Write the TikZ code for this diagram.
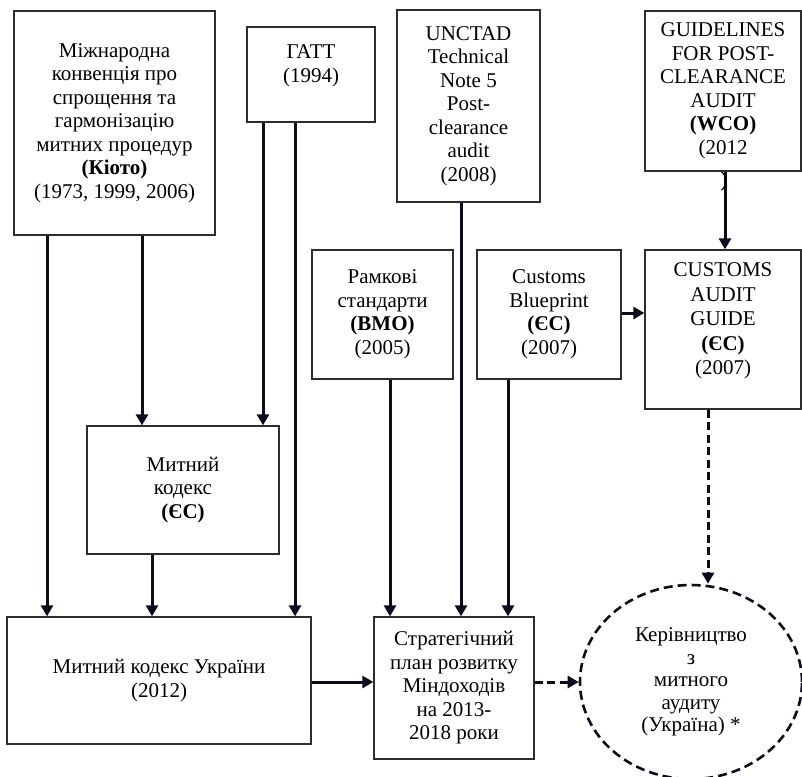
\documentclass[tikz,border=0pt]{standalone}
\usepackage{fontspec}
\setmainfont{Liberation Serif}
\usetikzlibrary{arrows.meta,shapes.geometric}
\definecolor{boxline}{HTML}{2E2E2E}
\definecolor{conn}{HTML}{0C0C1C}
\tikzset{
  doc/.style={draw=boxline, line width=1.3pt, fill=white, align=center, inner sep=2pt,
    font=\fontsize{21}{23.5}\selectfont, text=black},
  arr/.style={draw=conn, line width=3pt, -{Triangle[length=11pt,width=12pt]}},
  darr/.style={arr, dash pattern=on 8pt off 4.5pt},
}
\begin{document}
\begin{tikzpicture}[x=1pt,y=-1pt]
\useasboundingbox[fill=white] (0,0) rectangle (802,776);
% boxes
\node[doc, minimum width=201pt, minimum height=224pt] (kioto) at (114.5,123)
  {Міжнародна\\конвенція про\\спрощення та\\гармонізацію\\митних процедур\\\textbf{(Кіото)}\\(1973, 1999, 2006)};
\node[doc, minimum width=128pt, minimum height=95pt] (gatt) at (311,74.5) {ГАТТ\\(1994)\\[-1.5pt]\mbox{}};
\node[doc, minimum width=143pt, minimum height=192pt] (unctad) at (468.5,106)
  {UNCTAD\\Technical\\Note 5\\Post-\\clearance\\audit\\(2008)};
\node[doc, minimum width=156pt, minimum height=160pt] (wco) at (723,91)
  {GUIDELINES\\FOR POST-\\CLEARANCE\\AUDIT\\\textbf{(WCO)}\\(2012};
\node[font=\fontsize{21}{23.5}\selectfont, inner sep=0pt] (wcoparen) at (724,181) {)};
\node[doc, minimum width=141pt, minimum height=129pt] (rama) at (382.5,314.5)
  {Рамкові\\стандарти\\\textbf{(ВМО)}\\(2005)};
\node[doc, minimum width=144pt, minimum height=129pt] (blue) at (549,314.5)
  {Customs\\Blueprint\\\textbf{(ЄС)}\\(2007)};
\node[doc, minimum width=156pt, minimum height=159pt, font=\fontsize{21}{24.5}\selectfont] (cag) at (723,329.5)
  {CUSTOMS\\AUDIT\\GUIDE\\\textbf{(ЄС)}\\(2007)\\[-3.5pt]\mbox{}};
\node[doc, minimum width=192pt, minimum height=128pt] (mkes) at (183,490)
  {Митний\\кодекс\\\textbf{(ЄС)}};
\node[doc, minimum width=304pt, minimum height=127pt] (mku) at (159,680.5)
  {Митний кодекс України\\(2012)};
\node[doc, minimum width=160pt, minimum height=142pt] (strat) at (454,688)
  {Стратегічний\\план розвитку\\Міндоходів\\на 2013-\\2018 роки};
\node[ellipse, draw=conn, line width=2.6pt, dash pattern=on 9pt off 5pt, align=center,
  font=\fontsize{21}{22.5}\selectfont, minimum width=222pt, minimum height=194pt, inner sep=0pt] (ell) at (691,682)
  {Керівництво\\з\\митного\\аудиту\\(Україна) *};
% helper positions
\coordinate (c47) at (47,0);
\coordinate (c142) at (142,0);
\coordinate (c152) at (152,0);
\coordinate (c263) at (263,0);
\coordinate (c295) at (295,0);
\coordinate (c390) at (390,0);
\coordinate (c461) at (461,0);
\coordinate (c508) at (508,0);
\coordinate (c725) at (725,0);
\coordinate (c708) at (708,0);
\coordinate (r313) at (0,313);
\coordinate (r682) at (0,682);
% connectors
\draw[arr] (kioto.south -| c47) -- (mku.north -| c47);
\draw[arr] (kioto.south -| c142) -- (mkes.north -| c142);
\draw[arr] (gatt.south -| c263) -- (mkes.north -| c263);
\draw[arr] (gatt.south -| c295) -- (mku.north -| c295);
\draw[arr] (mkes.south -| c152) -- (mku.north -| c152);
\draw[arr] (rama.south -| c390) -- (strat.north -| c390);
\draw[arr] (unctad.south -| c461) -- (strat.north -| c461);
\draw[arr] (blue.south -| c508) -- (strat.north -| c508);
\draw[arr] (blue.east |- r313) -- (cag.west |- r313);
\draw[arr] (wcoparen.south -| c725) -- (cag.north -| c725);
\draw[conn, line width=3pt] (wco.south -| c725) -- (wcoparen.south -| c725);
\draw[darr] (cag.south -| c708) -- (ell.north -| c708);
\draw[arr] (mku.east |- r682) -- (strat.west |- r682);
\draw[darr] (strat.east |- r682) -- (ell.west |- r682);
% paren on top of the line
\node[font=\fontsize{21}{23.5}\selectfont, inner sep=0pt] at (wcoparen) {)};
\end{tikzpicture}
\end{document}
